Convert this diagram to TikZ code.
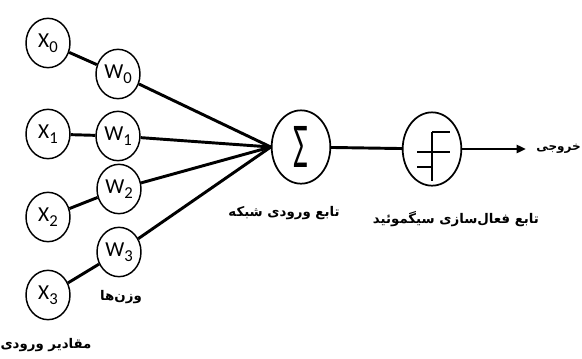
\documentclass[tikz,border=0pt]{standalone}
\usepackage{fontspec}
\setmainfont{Carlito}
\newfontfamily\fafont[Script=Arabic]{DejaVu Sans}
\TeXXeTstate=1
\usetikzlibrary{arrows.meta,shapes.geometric}

% one unit is one pixel of the 582x358 frame, y runs down
\tikzset{
  unit/.style={draw, ellipse, line width=1.1pt, minimum width=33pt, minimum height=37pt, inner sep=0pt, font=\fontsize{16}{16}\selectfont},
  bigunit/.style={draw, ellipse, line width=1.3pt, minimum width=44pt, minimum height=55pt, inner sep=0pt},
  wire/.style={line width=2.2pt},
  falabel/.style={font=\fafont\bfseries\fontsize{10}{12}\selectfont}
}
\newcommand{\idx}[1]{\raisebox{-4pt}{\fontsize{12.5}{12.5}\selectfont #1}}
\newcommand{\fa}[1]{\beginR #1\endR}

\begin{document}
\begin{tikzpicture}[>={Triangle[length=7pt,width=6pt]}, x=0.75pt, y=-0.75pt]
\useasboundingbox (0,0) rectangle (582,358);
% sum and activation
\node[bigunit] (sum) at (301,147) {\scalebox{0.8}[1.6]{\fontsize{30}{30}\selectfont Σ}};
\node[bigunit] (sig) at (432,149) {};
\begin{scope}[shift={(sig)}, line width=1.4pt]
  \draw (0,-17) -- (0,32);
  \draw (0,-17) -- (18,-17);
  \draw (-15,3) -- (18,3);
  \draw (-15,18) -- (0,18);
\end{scope}
% inputs x_i and weights w_i
\foreach \i/\xy/\wx/\wy in {0/43/118/74, 1/134/118/136, 2/217/119/189, 3/295/119/252} {
  \node[unit] (x\i) at (48,\xy) {X\idx{\i}};
  \node[unit] (w\i) at (\wx,\wy) {W\idx{\i}};
  \draw[wire] (x\i) -- (w\i);
  \draw[wire] (w\i) -- (sum.west);
}
\draw[wire] (sum) -- (sig);
\coordinate (out) at (526,149);
\draw[wire, ->] (sig) -- (out);
% labels
\node[falabel, font=\fafont\bfseries\fontsize{9}{11}\selectfont, anchor=east, inner sep=0pt] (outlbl) at (581,149) {\fa{خروجی}};
\node[falabel] (sumlbl) at (284,213) {\fa{تابع ورودی شبکه}};
\node[falabel] (siglbl) at (456,219) {\fa{تابع فعال‌سازی سیگموئید}};
\node[falabel] (wlbl) at (121,297) {\fa{وزن‌ها}};
\node[falabel] (xlbl) at (46,345) {\fa{مقادیر ورودی}};
\end{tikzpicture}
\end{document}
